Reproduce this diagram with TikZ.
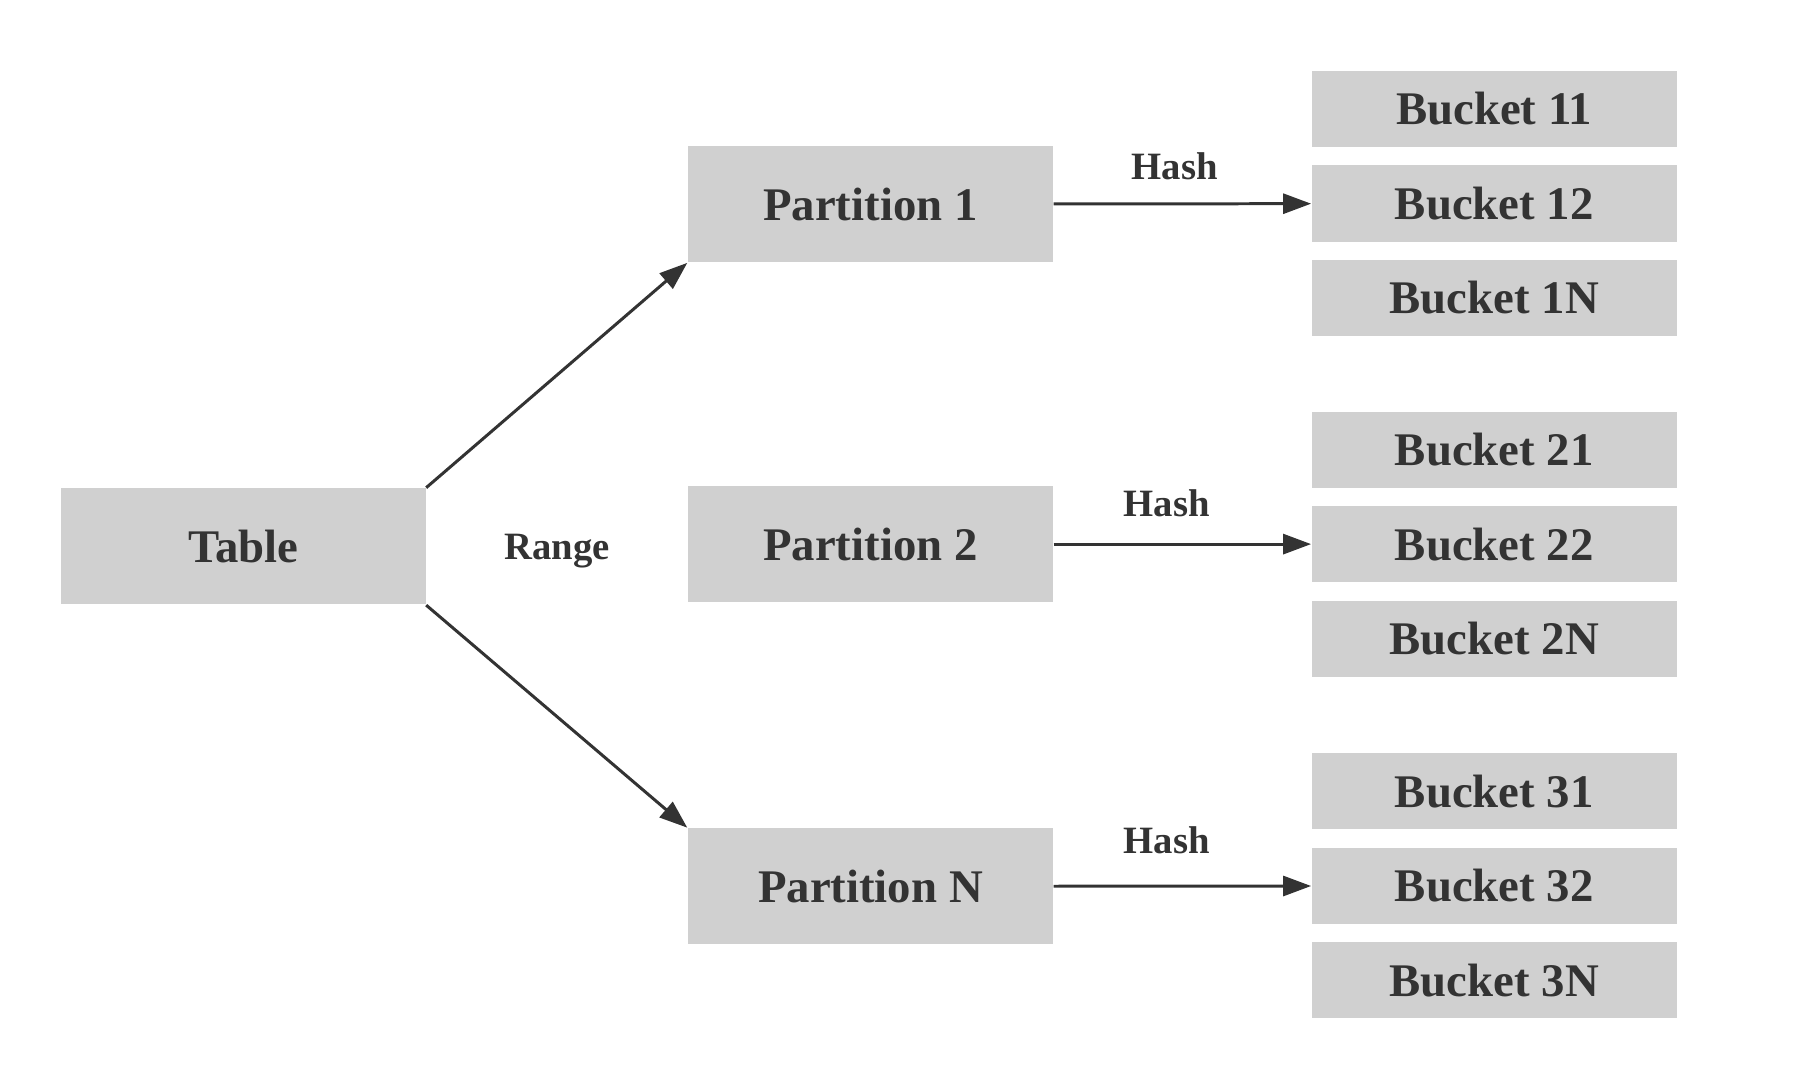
\documentclass[tikz,border=0pt]{standalone}
\usepackage{fontspec}
\setmainfont{Liberation Serif}
\usepackage{xcolor}
\usetikzlibrary{positioning, arrows.meta}

\definecolor{boxgray}{RGB}{208,208,208}
\definecolor{ink}{RGB}{51,51,51}

\begin{document}
\begin{tikzpicture}[x=0.01cm, y=-0.01cm, font = \fontsize{13.3}{16}\selectfont\bfseries, text=ink,
    obox/.style={fill=boxgray, inner sep=0, minimum width=3.646cm, minimum height=1.16cm},
    obucket/.style={fill=boxgray, inner sep=0, minimum width=3.646cm, minimum height=0.76cm},
    lbl/.style={font=\fontsize{11}{13}\selectfont\bfseries, inner sep=0},
    arrow/.style={-{Triangle[length=0.28cm, width=0.2cm]}, ink, line width=0.85pt},
    ]

    \useasboundingbox (0,0) rectangle (1798,1066);

    \coordinate (c1) at (870.4,204.1);
    \coordinate (c2) at (870.4,544.1);
    \coordinate (c3) at (870.4,886.4);

    \node(table)[obox] at (243.1,546.4){Table};
    \node(range)[lbl] at (557,551){Range};

    \node(part1)[obox] at (c1){Partition 1};
    \node(part2)[obox] at (c2){Partition 2};
    \node(partN)[obox] at (c3){Partition N};

    \node(b12)[obucket] at (1494.2,203.5){Bucket 12};
    \node(b11)[obucket, above=0.17cm of b12]{Bucket 11};
    \node(b1N)[obucket, below=0.17cm of b12]{Bucket 1N};

    \node(b22)[obucket] at (1494.2,544.1){Bucket 22};
    \node(b21)[obucket, above=0.17cm of b22]{Bucket 21};
    \node(b2N)[obucket, below=0.17cm of b22]{Bucket 2N};

    \node(b32)[obucket] at (1494.2,885.8){Bucket 32};
    \node(b31)[obucket, above=0.17cm of b32]{Bucket 31};
    \node(b3N)[obucket, below=0.17cm of b32]{Bucket 3N};

    \draw[arrow](table.north east) -- (part1.south west);
    \draw[arrow](table.south east) -- (partN.north west);

    \draw[arrow](part1) -- (b12) node[lbl, above=0.225cm, pos=0.47]{Hash};
    \draw[arrow](part2) -- (b22) node[lbl, above=0.26cm, pos=0.44]{Hash};
    \draw[arrow](partN) -- (b32) node[lbl, above=0.305cm, pos=0.44]{Hash};

\end{tikzpicture}
\end{document}
